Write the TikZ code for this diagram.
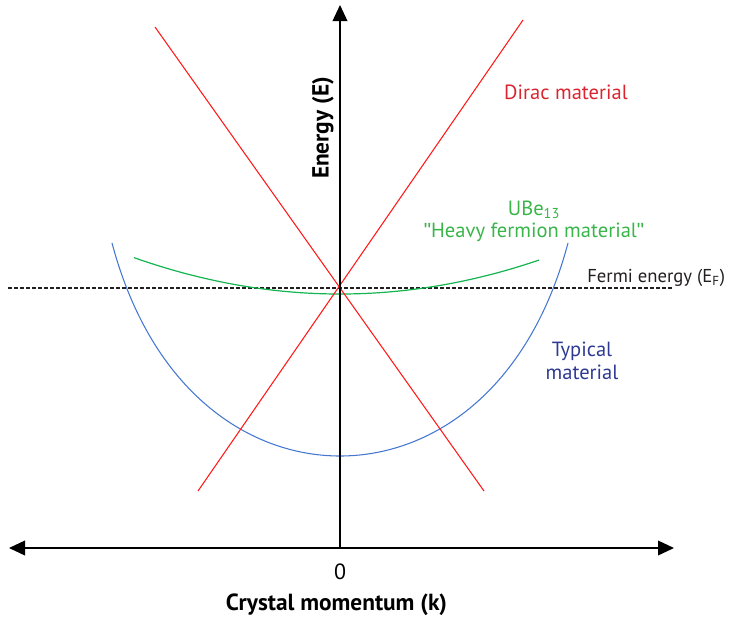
\documentclass[tikz,border=0pt]{standalone}
\usepackage{fontspec}
\setmainfont{PT Sans}
\newfontfamily\quotefont{Liberation Sans}
\usetikzlibrary{arrows.meta}
\definecolor{linered}{RGB}{255,25,25}
\definecolor{textred}{RGB}{218,37,48}
\definecolor{linegreen}{RGB}{20,180,80}
\definecolor{textgreen}{RGB}{57,181,74}
\definecolor{lineblue}{RGB}{70,120,210}
\definecolor{textblue}{RGB}{46,58,146}
\definecolor{textdark}{RGB}{35,31,32}
\tikzset{
  axis/.style={line width=1.2pt, black},
  axistip/.style={-{Triangle[length=12pt,width=11pt]}},
  dirac/.style={linered, line width=0.8pt},
  heavy/.style={linegreen, line width=0.9pt},
  typical/.style={lineblue, line width=0.8pt},
  fermi/.style={textdark, line width=0.8pt, dash pattern=on 3pt off 1.5pt},
  lbl/.style={inner sep=0pt, font=\fontsize{15.4}{17}\selectfont},
  boldlbl/.style={inner sep=0pt, font=\fontsize{17.5}{19}\selectfont\bfseries},
}
\begin{document}
\begin{tikzpicture}[x=0.75pt,y=-0.75pt]
\useasboundingbox (0,0) rectangle (736,619);
% coordinates
\coordinate (origin) at (340,548);
\coordinate (ytop) at (340,5);
\coordinate (xl) at (9,548);
\coordinate (xr) at (674,548);
\coordinate (fl) at (8,288);
\coordinate (fr) at (672,288);
\coordinate (d1a) at (155,27);
\coordinate (d1b) at (484,491);
\coordinate (d2a) at (523,20);
\coordinate (d2b) at (198,491);
\coordinate (bl) at (112,243);
\coordinate (bm) at (340,456);
\coordinate (br) at (568,243);
% fermi level
\draw[fermi] (fl) -- (fr);
% typical material
\draw[typical] (bl) .. controls (152,393) and (250,456) .. (bm) .. controls (430,456) and (528,393) .. (br);
% heavy fermion
\draw[heavy] plot[domain=134:539, samples=80, smooth] (\x, {294 - 8.57*((\x-340)/100)^2});
% dirac
\draw[dirac] (d1a) -- (d1b);
\draw[dirac] (d2a) -- (d2b);
% axes
\draw[axis, axistip] (origin) -- (ytop);
\draw[axis, {Triangle[length=12pt,width=11pt]}-{Triangle[length=12pt,width=11pt]}] (xl) -- (xr);
% labels
\node[lbl, anchor=base, textgreen] (tube) at (534,215) {UBe\textsubscript{13}};
\node[lbl, anchor=base, textgreen] (theavy) at (534,237) {{\quotefont\symbol{34}}Heavy fermion material{\quotefont\symbol{34}}};
\node[lbl, anchor=base, textred] (tdirac) at (566,99) {Dirac material};
\node[lbl, anchor=base west, textdark, font=\fontsize{14}{16}\selectfont] (tfermi) at (587,282.7) {Fermi energy (E\textsubscript{F})};
\node[lbl, anchor=base, textblue] (ttyp1) at (582,356.7) {Typical};
\node[lbl, anchor=base, textblue] (ttyp2) at (582,379) {material};
\node[lbl, black, font=\fontsize{16.5}{18}\selectfont] (tzero) at (340,572) {0};
\node[boldlbl, black] (tk) at (336.5,605) {Crystal momentum (k)};
\node[boldlbl, black, rotate=90] (tE) at (323,128) {Energy (E)};
\end{tikzpicture}
\end{document}
